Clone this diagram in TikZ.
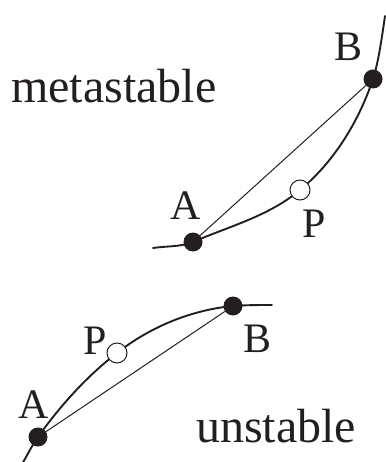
\documentclass[tikz,border=0pt]{standalone}
\usepackage{fontspec}
\setmainfont{Liberation Serif}
\definecolor{ink}{HTML}{231F20}
\tikzset{
  curve/.style={line width=1.9pt, color=ink, line cap=round},
  chord/.style={line width=1.0pt, color=ink},
  dotfill/.style={circle, fill=ink, inner sep=0pt, minimum size=19pt},
  dotopen/.style={circle, draw=ink, fill=white, line width=1pt, inner sep=0pt, minimum size=20pt},
  lbl/.style={inner sep=0pt, text=ink, font=\fontsize{42}{44}\selectfont},
  word/.style={inner sep=0pt, text=ink, font=\fontsize{48}{50}\selectfont, anchor=base west}
}
\begin{document}
\begin{tikzpicture}[x=1pt,y=-1pt]
\useasboundingbox (0,0) rectangle (385,462);
% top: metastable
\coordinate (S1) at (153,248);
\coordinate (A1) at (193,242);
\coordinate (P1) at (300,190);
\coordinate (B1) at (373,79);
\coordinate (E1) at (385,16);
\draw[curve] (S1) .. controls (166,246) and (181,247) .. (A1)
  .. controls (230,226) and (269,216) .. (P1)
  .. controls (334,162) and (359,121) .. (B1)
  .. controls (379,60) and (382,36) .. (E1);
\draw[chord] (A1) -- (B1);
\node[dotfill] (a1) at (A1) {};
\node[dotopen] (p1) at (P1) {};
\node[dotfill] (b1) at (B1) {};
\node[lbl] (la1) at (186,206) {A};
\node[lbl] (lp1) at (314,224) {P};
\node[lbl] (lb1) at (348,47) {B};
\node[word] (w1) at (11,103) {metastable};
% bottom: unstable
\coordinate (S2) at (22,464);
\coordinate (A2) at (38,437);
\coordinate (P2) at (117,353);
\coordinate (B2) at (233,306);
\coordinate (E2) at (272,305);
\draw[curve] (S2) .. controls (27,456) and (32,445) .. (A2)
  .. controls (60,406) and (87,376) .. (P2)
  .. controls (150,327) and (191,310) .. (B2)
  .. controls (246,305) and (259,305) .. (E2);
\draw[chord] (A2) -- (B2);
\node[dotfill] (a2) at (A2) {};
\node[dotopen] (p2) at (P2) {};
\node[dotfill] (b2) at (B2) {};
\node[lbl] (la2) at (34,405) {A};
\node[lbl] (lp2) at (95,341) {P};
\node[lbl] (lb2) at (258,339) {B};
\node[word] (w2) at (196,442) {unstable};
\end{tikzpicture}
\end{document}
